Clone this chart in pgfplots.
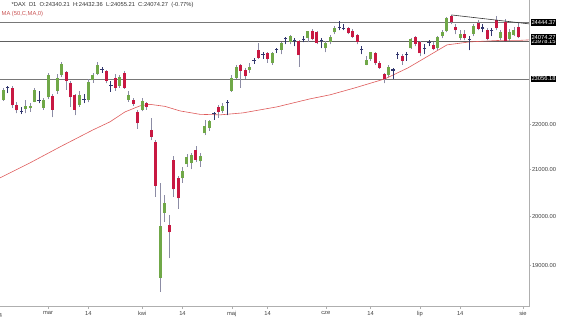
\documentclass[border=0pt]{standalone}
\usepackage{fontspec}
\setmainfont{Liberation Sans}
\usepackage{pgfplots}
\usepackage{pgfplotstable}
\pgfplotsset{compat=1.18}
\definecolor{upc}{RGB}{112,168,72}
\definecolor{dnc}{RGB}{200,24,66}
\definecolor{wickc}{RGB}{140,140,165}
\definecolor{dojic}{RGB}{50,55,110}
\definecolor{mac}{RGB}{222,90,90}
\definecolor{axc}{RGB}{175,175,175}
\definecolor{lvl}{RGB}{120,120,120}

% index 0 = 17 Feb, 115 = 31 Jul (trading days)
\pgfplotstableread{
x o h l c
0 22560 22830 22540 22798
5 22350 22550 22250 22426
6 22370 22480 22280 22410
7 22520 22850 22500 22794
9 22380 22600 22330 22551
10 22620 23200 22580 23147
12 22780 23180 22700 23081
13 23150 23475 23100 23419
17 22450 22760 22400 22676
19 22560 23050 22500 22987
20 23020 23200 22970 23154
21 23180 23476 23150 23380
26 22880 23150 22850 23109
28 22560 22760 22520 22679
31 22330 22600 22300 22539
35 18760 20700 18490 19790
36 20070 20440 19880 20280
40 20800 21050 20700 20955
41 21100 21330 21050 21254
42 21140 21350 21000 21311
44 21170 21350 21050 21294
45 21790 22100 21750 21962
46 21920 22100 21850 22064
49 22300 22480 22250 22426
51 22780 23150 22750 23087
52 23080 23380 23050 23344
55 23260 23450 23200 23352
60 23440 23720 23400 23695
62 23760 23960 23650 23935
64 23960 24120 23900 24110
68 24050 24240 23950 24226
72 23800 23980 23700 23930
73 23960 24120 23900 24091
74 24200 24360 24150 24300
81 23400 23600 23380 23516
82 23540 23720 23500 23699
86 23150 23400 23100 23350
91 23800 24050 23780 24033
97 23800 24100 23750 24074
98 24100 24250 24050 24206
99 24220 24580 24200 24550
102 24060 24250 24000 24161
105 24150 24400 24100 24370
111 24050 24250 24000 24217
113 24030 24280 23980 24218
114 24130 24330 24100 24262
}\upt

\pgfplotstableread{
x o h l c
2 22850 22880 22380 22433
3 22450 22520 22250 22315
11 22650 22700 22160 22327
14 23230 23250 22800 23009
15 22970 23000 22400 22620
16 22680 22700 22200 22329
23 23250 23270 22950 23009
25 23080 23180 22780 22852
27 23200 23240 22820 22839
29 22560 22600 22420 22461
30 22290 22330 21900 22020
32 22480 22520 22330 22390
33 21870 22150 21640 21717
34 21590 21650 20400 20642
37 19820 20030 19150 19670
38 21200 21280 20400 20563
39 20810 20850 20150 20374
43 21420 21500 21150 21206
48 22400 22450 22150 22271
53 23380 23420 22850 23249
54 23280 23320 23050 23116
57 23750 23930 23550 23567
59 23680 23720 23450 23527
66 23970 24000 23350 23630
69 24230 24280 24000 24038
70 24200 24230 23900 23933
77 24300 24320 24150 24174
78 24230 24280 24050 24080
79 24120 24150 23900 23960
83 23680 23700 23400 23434
84 23450 23500 23300 23317
85 23180 23200 22950 23057
89 23620 23650 23400 23498
92 24070 24100 23850 23909
93 23950 23980 23600 23673
96 23880 23950 23750 23787
100 24600 24639 24400 24456
101 24330 24400 24150 24255
103 24150 24250 24000 24060
106 24440 24500 24250 24290
108 24250 24300 24000 24042
110 24500 24600 24250 24296
112 24470 24530 23970 23975
115 24340 24432 24055 24074
}\dnt

\pgfplotstableread{
x o h l c
1 22820 22900 22720 22844
4 22300 22400 22230 22287
8 22570 22760 22480 22551
18 22580 22700 22480 22567
22 23300 23350 23200 23288
24 22900 23000 22750 22892
47 22220 22280 22100 22242
50 22500 22550 22200 22497
56 23490 23560 23420 23499
58 23620 23700 23550 23638
61 23760 23800 23680 23767
63 24020 24070 23900 24036
65 24000 24050 23850 23999
67 24020 24100 23950 24027
71 23980 24050 23800 23997
75 24330 24480 24250 24323
76 24300 24400 24250 24304
80 23760 23850 23650 23772
87 23260 23330 23050 23270
88 23630 23700 23550 23642
90 23640 23700 23500 23649
94 23780 23900 23650 23790
95 23920 24000 23850 23934
104 24000 24100 23750 24009
107 24300 24420 24200 24307
109 24230 24300 24100 24240
}\dojit

\pgfplotstableread{
x ma
-0.74 20808
5.96 21135
12.66 21488
20.02 21870
23.82 22053
27.17 22282
30.51 22421
32.74 22456
36.09 22410
39.44 22305
43.90 22225
48.37 22213
53.50 22259
61.09 22398
68.46 22585
72.92 22679
78.50 22844
85.20 23058
90.33 23322
94.13 23565
99.04 23885
104.17 23960
110.87 23997
115.11 23997
117.35 24009
}\mat

\pgfplotsset{
  candle/.style={only marks, mark=*, mark size=0pt,
    mark options={draw=none, fill=none},
    error bars/.cd, y dir=plus, y explicit, error mark=none,
    error bar style={draw=#1}},
}

\begin{document}
\begin{tikzpicture}
\path[use as bounding box] (0bp,0bp) rectangle (564bp,323bp);
\begin{axis}[
  at={(0bp,16bp)}, anchor=south west,
  scale only axis, width=529bp, height=307bp,
  xmin=-0.737, xmax=117.35,
  ymode=log, ymin=18204, ymax=25026,
  axis line style={draw=none},
  tick align=outside,
  xtick pos=left, ytick pos=right,
  yticklabel pos=right,
  xminorticks=false, yminorticks=false,
  xtick={10,19,31,40,51,59,72,82,93,102,116},
  xticklabels={mar,14,kwi,14,maj,14,cze,14,lip,14,sie},
  ytick={19000,20000,21000,22000},
  yticklabels={19000.00,20000.00,21000.00,22000.00},
  major tick length=2bp,
  tick style={axc, line width=0.5bp},
  ticklabel style={font=\fontsize{5.8}{7}\selectfont, text=black!75},
  yticklabel style={inner xsep=0.8bp},
  xticklabel style={inner ysep=2bp},
  clip=false,
]
% level lines
\addplot[lvl, line width=0.6bp] coordinates {(-0.737,24444.37) (117.35,24444.37)};
\addplot[lvl!80!black, line width=0.6bp] coordinates {(-0.737,23978) (117.35,23978)};
\addplot[lvl, line width=0.6bp] coordinates {(-0.737,23056.18) (117.35,23056.18)};
% MA 50
\addplot[mac, line width=0.6bp] table[x=x,y=ma] {\mat};
% wicks
\addplot[candle={wickc, line width=0.7bp}]
  table[x=x, y=l, y error expr=\thisrow{h}-\thisrow{l}] {\upt};
\addplot[candle={wickc, line width=0.7bp}]
  table[x=x, y=l, y error expr=\thisrow{h}-\thisrow{l}] {\dnt};
\addplot[candle={dojic, line width=0.7bp}]
  table[x=x, y=l, y error expr=\thisrow{h}-\thisrow{l}] {\dojit};
% bodies
\addplot[candle={upc, line width=3bp}]
  table[x=x, y=o, y error expr=\thisrow{c}-\thisrow{o}] {\upt};
\addplot[candle={dnc, line width=3bp}]
  table[x=x, y=c, y error expr=\thisrow{o}-\thisrow{c}] {\dnt};
\addplot[only marks, mark=-, mark size=1.7bp, mark options={draw=dojic, line width=1.1bp}]
  table[x=x, y=c] {\dojit};
% trend line
\addplot[black!80, line width=0.6bp] coordinates {(100,24639) (117.35,24411)};
% axis lines
\draw[axc, line width=0.8bp] (rel axis cs:0,0) -- (rel axis cs:1,0) -- (rel axis cs:1,1);
% price labels
\node[fill=black, text=white, anchor=west, inner xsep=0.8bp, inner ysep=1.1bp,
  font=\fontsize{5.8}{6}\selectfont, xshift=1.5bp] at (axis cs:117.35,24444.37) {24444.37};
\node[fill=black, text=white, anchor=west, inner xsep=0.8bp, inner ysep=1.1bp,
  font=\fontsize{5.8}{6}\selectfont, xshift=1.5bp] at (axis cs:117.35,23960) {23978.15};
\node[fill=black, text=white, anchor=west, inner xsep=0.8bp, inner ysep=1.1bp,
  font=\fontsize{5.8}{6}\selectfont, xshift=1.5bp] at (axis cs:117.35,24074.27) {24074.27};
\node[fill=black, text=white, anchor=west, inner xsep=0.8bp, inner ysep=1.1bp,
  font=\fontsize{5.8}{6}\selectfont, xshift=1.5bp] at (axis cs:117.35,23056.18) {23056.18};
\end{axis}
\node[anchor=west, inner sep=0, font=\fontsize{5.8}{7}\selectfont, text=black!80] at (11.5bp,318bp) {*DAX\ \ D1\ \ O:24340.21\ \ H:24432.36\ \ L:24055.21\ \ C:24074.27\ \ (-0.77\%)};
\node[anchor=west, inner sep=0, font=\fontsize{5.8}{7}\selectfont, text=mac!90!black] at (1.5bp,309bp) {MA (50,C,MA,0)};
\node[anchor=center, inner sep=0, font=\fontsize{5.8}{7}\selectfont, text=black!75] at (-1.2bp,7.5bp) {14};
\end{tikzpicture}
\end{document}
